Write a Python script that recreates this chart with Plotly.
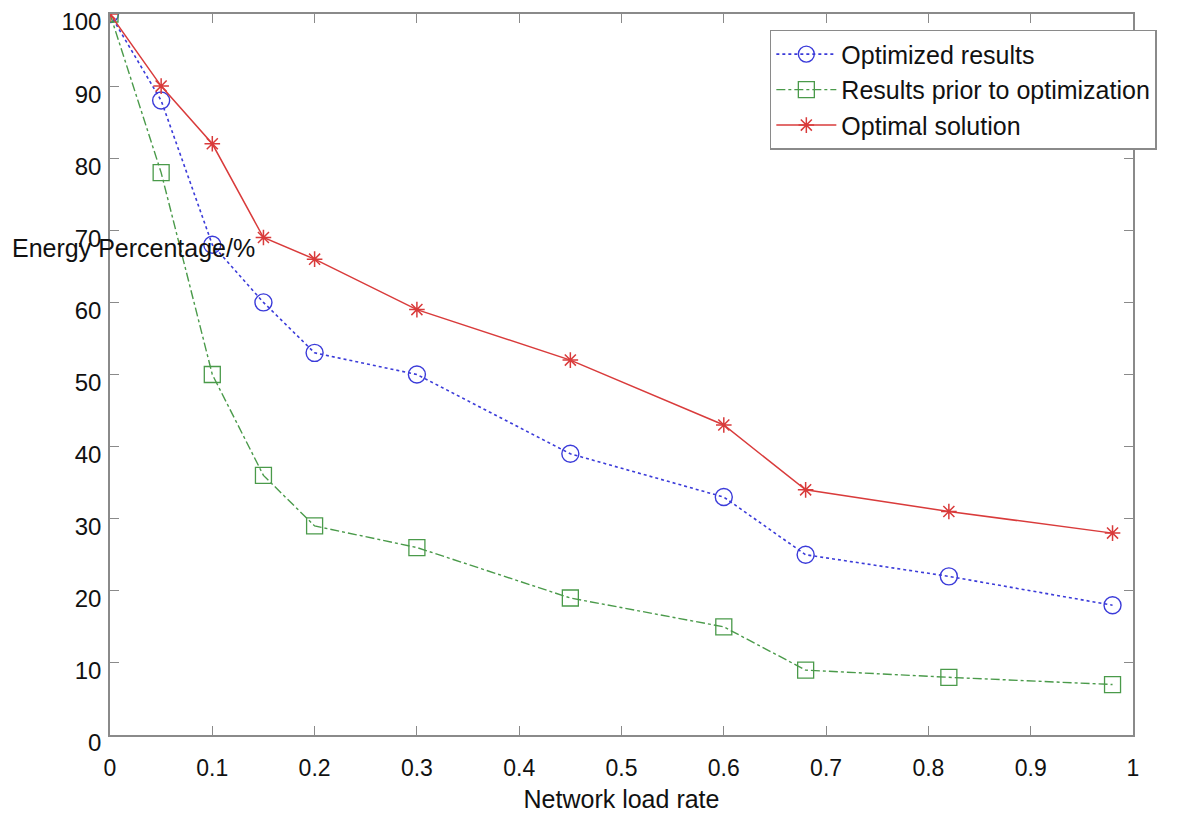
import plotly.graph_objects as go

load_rate = [0, 0.05, 0.1, 0.15, 0.2, 0.3, 0.45, 0.6, 0.68, 0.82, 0.98]
optimized = [100, 88, 68, 60, 53, 50, 39, 33, 25, 22, 18]
prior = [100, 78, 50, 36, 29, 26, 19, 15, 9, 8, 7]
optimal = [100, 90, 82, 69, 66, 59, 52, 43, 34, 31, 28]

x_ticks = [0, 0.1, 0.2, 0.3, 0.4, 0.5, 0.6, 0.7, 0.8, 0.9, 1]
x_tick_text = ["0", "0.1", "0.2", "0.3", "0.4", "0.5", "0.6", "0.7", "0.8", "0.9", "1"]
y_ticks = [0, 10, 20, 30, 40, 50, 60, 70, 80, 90, 100]

FONT = "Arial, Liberation Sans, sans-serif"

fig = go.Figure()
fig.add_trace(go.Scatter(
    x=load_rate, y=optimized, name="Optimized results", mode="lines+markers",
    line=dict(color="#3b3bd9", width=1.6, dash="dot"),
    marker=dict(symbol="circle-open", size=17, color="#3b3bd9", line=dict(width=1.4)),
))
fig.add_trace(go.Scatter(
    x=load_rate, y=prior, name="Results prior to optimization", mode="lines+markers",
    line=dict(color="#4a9a4a", width=1.4, dash="dashdot"),
    marker=dict(symbol="square-open", size=16, color="#4a9a4a", line=dict(width=1.3)),
))
fig.add_trace(go.Scatter(
    x=load_rate, y=optimal, name="Optimal solution", mode="lines+markers",
    line=dict(color="#d93b3b", width=1.5),
    marker=dict(symbol="asterisk-open", size=13, color="#d93b3b", line=dict(width=1.5, color="#d93b3b")),
))

axis_common = dict(
    showline=True, linecolor="#8a8a8a", linewidth=1.5, mirror="ticks",
    ticks="inside", ticklen=9, tickwidth=1.3, tickcolor="#8a8a8a",
    showgrid=False, zeroline=False, automargin=False,
)

fig.update_xaxes(range=[0, 1], tickvals=x_ticks, ticktext=x_tick_text,
                 tickfont=dict(family=FONT, size=23, color="#111111"),
                 ticklabelstandoff=12,
                 title=dict(text="Network load rate", font=dict(family=FONT, size=25, color="#111111"), standoff=10),
                 **axis_common)
fig.update_yaxes(range=[0, 100], tickvals=y_ticks,
                 tickfont=dict(family=FONT, size=24, color="#111111"),
                 ticklabelshift=8, ticklabelstandoff=2,
                 **axis_common)

fig.add_annotation(
    text="Energy Percentage/%", xref="paper", yref="paper",
    x=-0.098, y=0.675, xanchor="left", yanchor="middle", showarrow=False,
    font=dict(family=FONT, size=25, color="#111111"),
)

fig.update_layout(
    width=1204, height=814,
    margin=dict(l=102, r=79, t=6, b=87),
    paper_bgcolor="white", plot_bgcolor="white",
    font=dict(family=FONT),
    legend=dict(
        x=0.645, y=0.978, xanchor="left", yanchor="top",
        bgcolor="white", bordercolor="#8a8a8a", borderwidth=1.5,
        font=dict(family=FONT, size=25, color="#111111"),
        itemwidth=60, tracegroupgap=0,
    ),
    showlegend=True,
)

fig.write_html("out.html")
